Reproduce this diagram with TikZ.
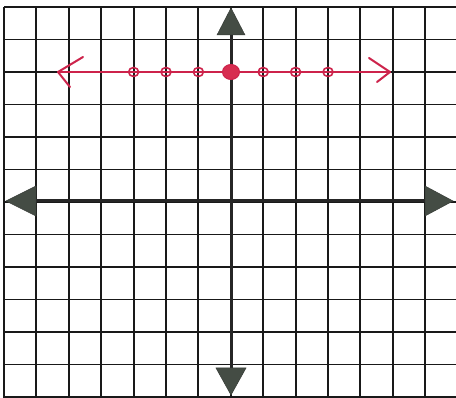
\documentclass[tikz,border=0pt]{standalone}
\begin{document}
\begin{tikzpicture}[x=1pt,y=-1pt,
  gridline/.style={line width=1.9pt,black!90},
  axisline/.style={line width=3pt,black!85},
  axhead/.style={fill={rgb,255:red,68;green,76;blue,68},draw={rgb,255:red,55;green,60;blue,55},line width=0.5pt},
  redpen/.style={draw={rgb,255:red,205;green,35;blue,75},line cap=round,line join=round},
  hollowdot/.style={redpen,line width=1.6pt},
  bigdot/.style={redpen,fill={rgb,255:red,215;green,45;blue,80},line width=1pt}]
\useasboundingbox (0,0) rectangle (456,398);
\fill[white] (0,0) rectangle (456,398);
% grid
\foreach \k in {0,...,13} \draw[gridline] ({4+32.4*\k},7) -- ({4+32.4*\k},398);
\foreach \k in {0,...,12} \draw[gridline] (4,{7+32.5*\k}) -- (456,{7+32.5*\k});
% axes
\coordinate (xl) at (20,201);
\coordinate (xr) at (440,201);
\coordinate (yt) at (231,22);
\coordinate (yb) at (231,382);
\draw[axisline] (xl) -- (xr);
\draw[axisline] (yt) -- (yb);
\fill[axhead] (425,186) -- (453,201) -- (425,216) -- cycle;
\fill[axhead] (36,186) -- (6,201) -- (36,216) -- cycle;
\fill[axhead] (217,35) -- (231,8) -- (245,35) -- cycle;
\fill[axhead] (216,368) -- (231,395) -- (246,368) -- cycle;
% red number line
\coordinate (rl) at (58,72);
\coordinate (rr) at (390,72);
\draw[redpen,line width=1.4pt] (rl) -- (rr);
\draw[redpen,line width=2pt] (83,57) -- (rl) -- (70,87);
\draw[redpen,line width=2pt] (369,58) -- (rr) -- (377,82);
\foreach \x in {133.6,166,198.4,263.2,295.6,328}
  \draw[hollowdot] (\x,72) ellipse (5 and 4.5);
\filldraw[bigdot] (231,72) ellipse (8.5 and 7.5);
\end{tikzpicture}
\end{document}
